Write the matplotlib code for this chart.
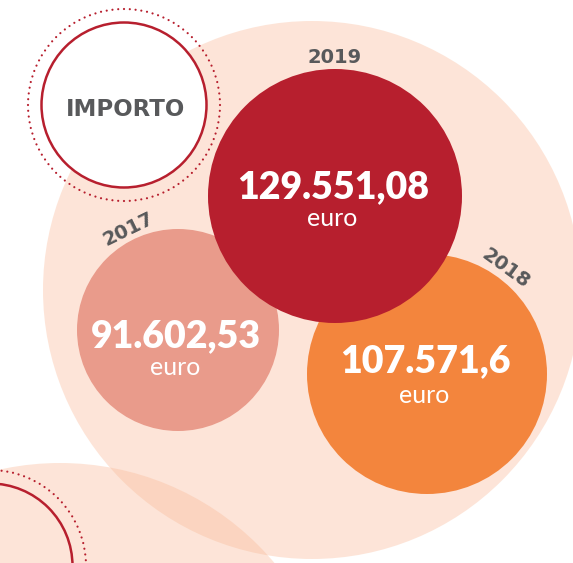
import matplotlib.pyplot as plt
from matplotlib.patches import Circle

# importo per anno
years = ['2017', '2018', '2019']
values = [91602.53, 107571.6, 129551.08]
value_labels = ['91.602,53', '107.571,6', '129.551,08']
unit = 'euro'
title = 'IMPORTO'

colors = ['#e99b8b', '#f3853d', '#b71f2e']
red = '#b71f2e'
gray = '#58595b'
peach = (0.98, 0.733, 0.604, 0.385)

# layout in pixel
centers = [(178, 330), (427, 374), (335, 196)]
radii = [101, 120, 127]
year_pos = [(128, 229, 26), (506, 268, -36), (335, 63, 0)]

fig = plt.figure(figsize=(5.73, 5.63), dpi=100)
ax = fig.add_axes([0, 0, 1, 1])
ax.set_xlim(0, 573)
ax.set_ylim(563, 0)
ax.axis('off')

# sfondo
ax.add_patch(Circle((312, 290), 269, color=peach, lw=0, zorder=1))
ax.add_patch(Circle((60, 743), 280, color=peach, lw=0, zorder=1))

# cerchi decorativi (anello pieno + anello a puntini)
for cx, cy, fill in [(124, 105, True), (-10, 566, False)]:
    if fill:
        ax.add_patch(Circle((cx, cy), 82.5, facecolor='white', edgecolor='none', zorder=2))
    ax.add_patch(Circle((cx, cy), 82.5, fill=False, edgecolor=red, lw=1.8, zorder=3))
    ax.add_patch(Circle((cx, cy), 96, fill=False, edgecolor=red, lw=1.6,
                        linestyle=(0, (0.01, 2.6)), capstyle='round', zorder=3))

ax.text(126, 116, title, ha='center', va='baseline', fontsize=16.5,
        fontweight='bold', color=gray, family='DejaVu Sans', zorder=4)

for i in range(len(years)):
    cx, cy = centers[i]
    ax.add_patch(Circle((cx, cy), radii[i], color=colors[i], lw=0, zorder=5))
    yx, yy, rot = year_pos[i]
    ax.text(yx, yy, years[i], ha='center', va='baseline' if rot == 0 else 'center',
            rotation=rot, rotation_mode='anchor', fontsize=14, fontweight='bold',
            color=gray, family='DejaVu Sans', zorder=6)

num_pos = [(176, 346.7), (425, 371.7), (333, 197.7)]
euro_pos = [(175, 375), (424, 403), (332.5, 226)]
for i in range(len(values)):
    ax.text(num_pos[i][0], num_pos[i][1], value_labels[i], ha='center', va='baseline',
            fontsize=27, fontweight='heavy', color='white', family=['Lato', 'DejaVu Sans'],
            zorder=7)
    ax.text(euro_pos[i][0], euro_pos[i][1], unit, ha='center', va='baseline',
            fontsize=18, fontweight='normal', color='white', family=['Lato', 'DejaVu Sans'],
            zorder=7)

fig.savefig('out.png', dpi=100)
